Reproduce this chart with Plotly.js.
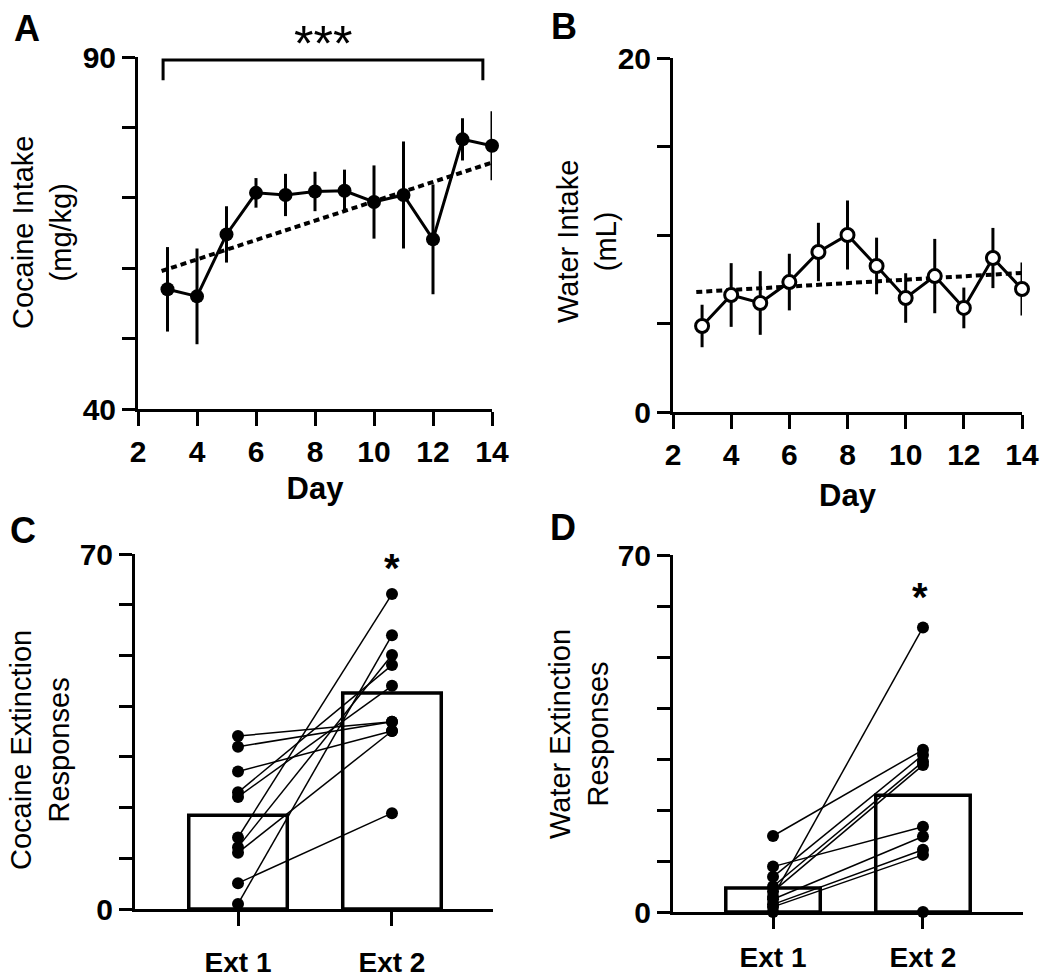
<!DOCTYPE html>
<html>
<head>
<meta charset="utf-8">
<script src="https://cdn.plot.ly/plotly-3.0.1.min.js"></script>
<style>html,body{margin:0;padding:0;background:#fff;}#chart{width:1050px;height:980px;}</style>
</head>
<body>
<div id="chart"></div>
<script>
// ---- Data ----
const days = [3, 4, 5, 6, 7, 8, 9, 10, 11, 12, 13, 14];
const cocaineMean = [57.0, 56.0, 64.8, 70.7, 70.4, 70.9, 71.0, 69.4, 70.4, 64.1, 78.3, 77.4];
const cocaineSem  = [6.0, 6.8, 4.0, 2.1, 3.0, 2.8, 3.0, 5.2, 7.6, 7.8, 3.0, 4.9];
const cocaineTrendX = [2.8, 14];
const cocaineTrendY = [59.6, 75.0];

const waterMean = [4.86, 6.61, 6.16, 7.34, 9.04, 10.0, 8.25, 6.44, 7.68, 5.88, 8.70, 6.95];
const waterSem  = [1.2, 1.8, 1.8, 1.6, 1.65, 1.95, 1.6, 1.4, 2.1, 1.15, 1.7, 1.5];
const waterTrendX = [2.8, 14];
const waterTrendY = [6.78, 7.86];

const sessions = ['Ext 1', 'Ext 2'];
const cocaineExtMean = [18.5, 42.6];
const cocaineExt1 = [34.1, 32.0, 27.1, 23.0, 22.1, 14.1, 12.2, 11.1, 5.1, 1.0];
const cocaineExt2 = [36.9, 36.9, 35.1, 48.1, 44.0, 62.1, 50.1, 35.1, 18.9, 54.0];

const waterExtMean = [4.7, 22.9];
const waterExt1 = [14.9, 8.9, 6.9, 5.0, 4.0, 3.0, 2.5, 1.5, 1.0, 0.0];
const waterExt2 = [31.8, 16.7, 30.8, 29.5, 28.8, 55.8, 14.8, 12.2, 11.2, 0.0];

const dayTicks = [2, 4, 6, 8, 10, 12, 14];
const cocaineYTicks = [40, 50, 60, 70, 80, 90];
const cocaineYText  = ['40', '', '', '', '', '90'];
const waterYTicks = [0, 5, 10, 15, 20];
const waterYText  = ['0', '', '', '', '20'];
const extYTicks = [0, 10, 20, 30, 40, 50, 60, 70];
const extYText  = ['0', '', '', '', '', '', '', '70'];

// ---- Styling ----
const FAM = 'Liberation Sans, Arial, sans-serif';
const tickFont = {family: FAM, size: 30, color: '#000', weight: 'bold'};
const catTickFont = {family: FAM, size: 28, color: '#000', weight: 'bold'};
const W = 1050, H = 980;
const px = v => v / W;
const py = v => 1 - v / H;

const traces = [];

// Panel A
traces.push({
  x: cocaineTrendX, y: cocaineTrendY, xaxis: 'x', yaxis: 'y', mode: 'lines',
  line: {color: '#000', width: 4, dash: '6px,4px'}, hoverinfo: 'skip', cliponaxis: false
});
traces.push({
  x: days, y: cocaineMean, xaxis: 'x', yaxis: 'y', mode: 'lines+markers',
  line: {color: '#000', width: 3},
  marker: {color: '#000', size: 14},
  error_y: {type: 'data', array: cocaineSem, visible: true, color: '#000', thickness: 3, width: 0},
  cliponaxis: false
});

// Panel B
traces.push({
  x: waterTrendX, y: waterTrendY, xaxis: 'x2', yaxis: 'y2', mode: 'lines',
  line: {color: '#000', width: 4, dash: '6px,4px'}, hoverinfo: 'skip', cliponaxis: false
});
traces.push({
  x: days, y: waterMean, xaxis: 'x2', yaxis: 'y2', mode: 'lines+markers',
  line: {color: '#000', width: 3},
  marker: {color: '#fff', size: 13, line: {color: '#000', width: 3}},
  error_y: {type: 'data', array: waterSem, visible: true, color: '#000', thickness: 3, width: 0},
  cliponaxis: false
});

// Panel C
traces.push({
  type: 'bar', x: sessions, y: cocaineExtMean, xaxis: 'x3', yaxis: 'y3', width: 0.64,
  marker: {color: '#fff', line: {color: '#000', width: 3.5}}
});
for (let i = 0; i < cocaineExt1.length; i++) {
  traces.push({
    x: sessions, y: [cocaineExt1[i], cocaineExt2[i]], xaxis: 'x3', yaxis: 'y3',
    mode: 'lines+markers', line: {color: '#000', width: 1.5},
    marker: {color: '#000', size: 12}, cliponaxis: false
  });
}

// Panel D
traces.push({
  type: 'bar', x: sessions, y: waterExtMean, xaxis: 'x4', yaxis: 'y4', width: 0.63,
  marker: {color: '#fff', line: {color: '#000', width: 3.5}}
});
for (let i = 0; i < waterExt1.length; i++) {
  traces.push({
    x: sessions, y: [waterExt1[i], waterExt2[i]], xaxis: 'x4', yaxis: 'y4',
    mode: 'lines+markers', line: {color: '#000', width: 1.5},
    marker: {color: '#000', size: 12}, cliponaxis: false
  });
}

function axisBase(extra) {
  return Object.assign({
    showline: true, linecolor: '#000', linewidth: 3,
    ticks: 'outside', ticklen: 14, tickwidth: 3, tickcolor: '#000',
    showgrid: false, zeroline: false, tickfont: tickFont, fixedrange: true
  }, extra);
}

const titleFont = {family: FAM, size: 31, color: '#000', weight: 'bold'};

function note(text, x, y, font, extra) {
  return Object.assign({text: text, x: px(x), y: py(y), xref: 'paper', yref: 'paper',
    xanchor: 'center', yanchor: 'middle', showarrow: false, font: font}, extra || {});
}
const letterFont = {family: FAM, size: 36, color: '#000', weight: 'bold'};
const yTitleFont = {family: FAM, size: 29, color: '#000'};

const layout = {
  width: W, height: H,
  margin: {l: 0, r: 0, t: 0, b: 0},
  paper_bgcolor: '#fff', plot_bgcolor: 'rgba(0,0,0,0)',
  showlegend: false,
  font: {family: FAM, color: '#000'},
  // Panel A
  xaxis: axisBase({domain: [px(138), px(492)], range: [2, 14], tickvals: dayTicks, anchor: 'y',
    title: {text: 'Day', font: titleFont, standoff: 11}}),
  yaxis: axisBase({domain: [py(409), py(57)], range: [40, 90], tickvals: cocaineYTicks, ticktext: cocaineYText,
    ticklen: 13, anchor: 'x'}),
  // Panel B
  xaxis2: axisBase({domain: [px(673), px(1022)], range: [2, 14], tickvals: dayTicks, anchor: 'y2',
    title: {text: 'Day', font: titleFont, standoff: 15}}),
  yaxis2: axisBase({domain: [py(412), py(58)], range: [0, 20], tickvals: waterYTicks, ticktext: waterYText,
    ticklen: 13, anchor: 'x2'}),
  // Panel C
  xaxis3: axisBase({domain: [px(135), px(493)], type: 'category', range: [-0.669, 1.656], anchor: 'y3',
    tickfont: catTickFont, ticklabelstandoff: 12}),
  yaxis3: axisBase({domain: [py(909), py(554)], range: [0, 70], tickvals: extYTicks, ticktext: extYText,
    ticklen: 13, anchor: 'x3'}),
  // Panel D
  xaxis4: axisBase({domain: [px(673), px(1023)], type: 'category', range: [-0.667, 1.667], anchor: 'y4',
    tickfont: catTickFont, ticklabelstandoff: 4}),
  yaxis4: axisBase({domain: [py(912), py(555)], range: [0, 70], tickvals: extYTicks, ticktext: extYText,
    ticklen: 13, anchor: 'x4'}),
  shapes: [
    {type: 'path', xref: 'x', yref: 'y', path: 'M 2.85,86.7 L 2.85,89.57 L 13.69,89.57 L 13.69,86.7',
     line: {color: '#000', width: 3}}
  ],
  annotations: [
    note('A', 27, 28, letterFont),
    note('B', 564, 27, letterFont),
    note('C', 23, 530, letterFont),
    note('D', 563, 527, letterFont),
    note('Cocaine Intake<br>(mg/kg)', 42, 233, yTitleFont, {textangle: -90}),
    note('Water Intake<br>(mL)', 587, 242, yTitleFont, {textangle: -90}),
    note('Cocaine Extinction<br>Responses', 40, 750, yTitleFont, {textangle: -90}),
    note('Water Extinction<br>Responses', 579, 734, yTitleFont, {textangle: -90}),
    note('***', 323, 44, {family: FAM, size: 50, color: '#000'}),
    note('*', 392, 568, {family: FAM, size: 40, color: '#000', weight: 'bold'}),
    note('*', 920, 597, {family: FAM, size: 40, color: '#000', weight: 'bold'})
  ]
};

Plotly.newPlot('chart', traces, layout, {displayModeBar: false, staticPlot: true});
</script>
</body>
</html>
